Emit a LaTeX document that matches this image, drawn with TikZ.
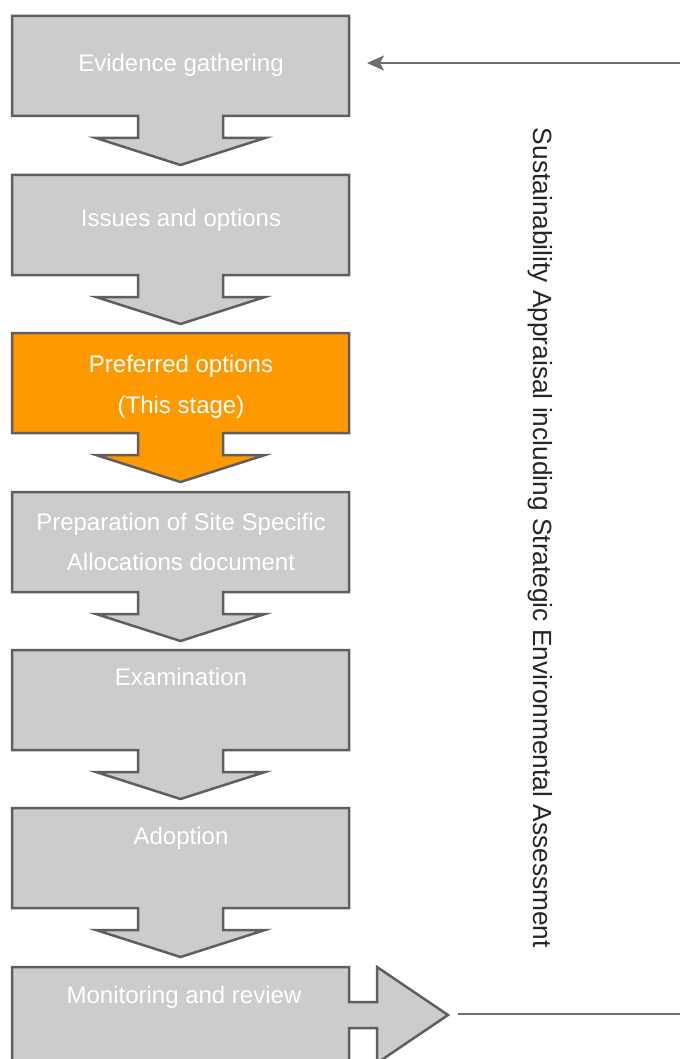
\documentclass[tikz,border=0pt]{standalone}
\usepackage{fontspec}
\setmainfont{Liberation Sans}
\usetikzlibrary{arrows.meta}
\definecolor{boxgray}{HTML}{CCCCCC}
\definecolor{edgegray}{HTML}{5F5F5F}
\definecolor{stageorange}{HTML}{FF9900}
\definecolor{linegray}{HTML}{6E6E6E}
\definecolor{labeltext}{HTML}{262626}
\newcommand\downstage[2]{%
  \filldraw[stageshape, fill=#2] (12,#1) -- (349,#1) -- (349,#1+100) -- (223,#1+100) -- (223,#1+122) -- (265,#1+122) -- (180.5,#1+149) -- (96,#1+122) -- (138,#1+122) -- (138,#1+100) -- (12,#1+100) -- cycle;}
\begin{document}
\begin{tikzpicture}[x=1pt,y=-1pt,
  stageshape/.style={draw=edgegray, line width=2.5pt, line join=miter},
  stagetext/.style={text=white, font=\fontsize{24}{29}\selectfont, anchor=base, inner sep=0pt},
  loopline/.style={draw=linegray, line width=2pt},
]
\useasboundingbox (0,0) rectangle (680,1059);
\clip (0,0) rectangle (680,1059);
\fill[white] (0,0) rectangle (680,1059);

\downstage{16}{boxgray}
\downstage{175}{boxgray}
\downstage{333}{stageorange}
\downstage{492}{boxgray}
\downstage{650}{boxgray}
\downstage{808}{boxgray}
\filldraw[stageshape, fill=boxgray] (12,1080) -- (12,967) -- (349,967) -- (349,1002) -- (377,1002) -- (377,967) -- (448,1015) -- (377,1063) -- (377,1028) -- (349,1028) -- (349,1080) -- cycle;

\node[stagetext] (s1) at (181,72) {Evidence gathering};
\node[stagetext] (s2) at (181,227) {Issues and options};
\node[stagetext] (s3a) at (181,372) {Preferred options};
\node[stagetext] (s3b) at (181,413) {(This stage)};
\node[stagetext] (s4a) at (181,530) {Preparation of Site Specific};
\node[stagetext] (s4b) at (181,570) {Allocations document};
\node[stagetext] (s5) at (181,685) {Examination};
\node[stagetext] (s6) at (181,844) {Adoption};
\node[stagetext] (s7) at (184,1003) {Monitoring and review};

\node[rotate=-90, anchor=base, text=labeltext, font=\fontsize{26.3}{30}\selectfont, inner sep=0pt] (sa) at (533,538) {Sustainability Appraisal including Strategic Environmental Assessment};

\coordinate (topR) at (680,63);
\coordinate (topTip) at (367,63);
\draw[loopline, -{Stealth[length=17pt,width=15pt,inset=4pt]}] (topR) -- (topTip);
\coordinate (botTip) at (458,1014);
\coordinate (botR) at (680,1014);
\draw[loopline] (botTip) -- (botR);
\end{tikzpicture}
\end{document}
